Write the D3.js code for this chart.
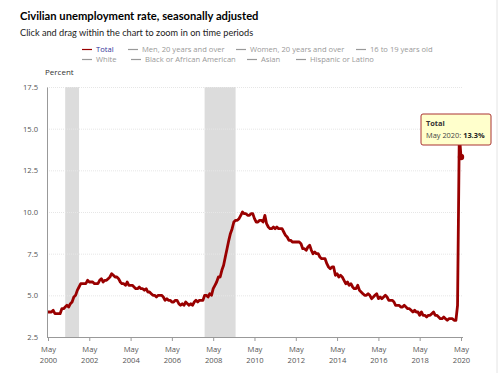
<!DOCTYPE html>
<html>
<head>
<meta charset="utf-8">
<script src="https://cdn.jsdelivr.net/npm/d3@7"></script>
<style>
  body { margin: 0; background: #fff; font-family: "Open Sans", "Noto Sans", sans-serif; }
  #viz { width: 500px; height: 373px; }
</style>
</head>
<body>
<div id="viz"></div>
<script>
// Monthly unemployment rate, Total, May 2000 - May 2020
const startDate = new Date(2000, 4, 1);
const totalRate = [
  4.0, 4.0, 4.0, 4.1, 3.9, 3.9, 3.9, 3.9,                         // 2000 May-Dec
  4.2, 4.2, 4.3, 4.4, 4.3, 4.5, 4.6, 4.9, 5.0, 5.3, 5.5, 5.7,     // 2001
  5.7, 5.7, 5.7, 5.9, 5.8, 5.8, 5.8, 5.7, 5.7, 5.7, 5.9, 6.0,     // 2002
  5.8, 5.9, 5.9, 6.0, 6.1, 6.3, 6.2, 6.1, 6.1, 6.0, 5.8, 5.7,     // 2003
  5.7, 5.6, 5.8, 5.6, 5.6, 5.6, 5.5, 5.4, 5.4, 5.5, 5.4, 5.4,     // 2004
  5.3, 5.4, 5.2, 5.2, 5.1, 5.0, 5.0, 4.9, 5.0, 5.0, 5.0, 4.9,     // 2005
  4.7, 4.8, 4.7, 4.7, 4.6, 4.6, 4.7, 4.7, 4.5, 4.4, 4.5, 4.4,     // 2006
  4.6, 4.5, 4.4, 4.5, 4.4, 4.6, 4.7, 4.6, 4.7, 4.7, 4.7, 5.0,     // 2007
  5.0, 4.9, 5.1, 5.0, 5.4, 5.6, 5.8, 6.1, 6.1, 6.5, 6.8, 7.3,     // 2008
  7.8, 8.3, 8.7, 9.0, 9.4, 9.5, 9.5, 9.6, 9.8, 10.0, 9.9, 9.9,    // 2009
  9.8, 9.8, 9.9, 9.9, 9.6, 9.4, 9.4, 9.5, 9.5, 9.4, 9.8, 9.3,     // 2010
  9.1, 9.0, 9.0, 9.1, 9.0, 9.1, 9.0, 9.0, 9.0, 8.8, 8.6, 8.5,     // 2011
  8.3, 8.3, 8.2, 8.2, 8.2, 8.2, 8.2, 8.1, 7.8, 7.8, 7.7, 7.9,     // 2012
  8.0, 7.7, 7.5, 7.6, 7.5, 7.5, 7.3, 7.2, 7.2, 7.2, 6.9, 6.7,     // 2013
  6.6, 6.7, 6.7, 6.2, 6.3, 6.1, 6.2, 6.1, 5.9, 5.7, 5.8, 5.6,     // 2014
  5.7, 5.5, 5.4, 5.4, 5.6, 5.3, 5.2, 5.1, 5.0, 5.0, 5.1, 5.0,     // 2015
  4.8, 4.9, 5.0, 5.1, 4.8, 4.9, 4.8, 4.9, 5.0, 4.9, 4.7, 4.7,     // 2016
  4.7, 4.6, 4.4, 4.4, 4.4, 4.3, 4.3, 4.4, 4.3, 4.2, 4.2, 4.1,     // 2017
  4.0, 4.1, 4.0, 4.0, 3.8, 4.0, 3.8, 3.8, 3.7, 3.8, 3.8, 3.9,     // 2018
  4.0, 3.8, 3.8, 3.7, 3.6, 3.6, 3.7, 3.6, 3.5, 3.6, 3.6, 3.6,     // 2019
  3.5, 3.5, 4.4, 14.7, 13.3                                        // 2020 Jan-May
];

// Recession periods (shaded)
const recessions = [
  { start: new Date(2001, 2, 1), end: new Date(2001, 10, 1) },
  { start: new Date(2007, 11, 1), end: new Date(2009, 5, 1) }
];

const yTicks = [2.5, 5.0, 7.5, 10.0, 12.5, 15.0, 17.5];
const xTickYears = [2000, 2002, 2004, 2006, 2008, 2010, 2012, 2014, 2016, 2018, 2020];

const legendRow1 = ['Total', 'Men, 20 years and over', 'Women, 20 years and over', '16 to 19 years old'];
const legendRow2 = ['White', 'Black or African American', 'Asian', 'Hispanic or Latino'];

const data = totalRate.map((v, i) => ({
  date: new Date(startDate.getFullYear(), startDate.getMonth() + i, 1),
  value: v
}));

const width = 500, height = 373;
const margin = { left: 47, right: 37, top: 87, bottom: 36 };
const lineColor = '#990000';

const svg = d3.select('#viz').append('svg')
  .attr('width', width)
  .attr('height', height);

const x = d3.scaleTime()
  .domain([new Date(2000, 4, 1), new Date(2020, 4, 1)])
  .range([margin.left + 1, 461]);

const y = d3.scaleLinear()
  .domain([2.5, 17.5])
  .range([height - margin.bottom, margin.top]);

// right border
svg.append('line')
  .attr('x1', 497).attr('x2', 497).attr('y1', 0).attr('y2', height)
  .attr('stroke', '#e4e4e4');

// Title
svg.append('text')
  .attr('x', 20).attr('y', 20)
  .attr('font-family', 'Lato, sans-serif')
  .attr('font-size', 11.2).attr('font-weight', 'bold').attr('fill', '#000')
  .text('Civilian unemployment rate, seasonally adjusted');

svg.append('text')
  .attr('x', 20).attr('y', 36)
  .attr('font-family', 'Lato, sans-serif')
  .attr('font-size', 9.2).attr('fill', '#222')
  .text('Click and drag within the chart to zoom in on time periods');

// Legend
const legendX1 = [82, 128, 236, 356];
const legendX2 = [82, 131, 247, 296];
function drawLegend(items, xs, yy) {
  const g = svg.append('g').attr('font-size', 7.6);
  items.forEach((name, i) => {
    g.append('line')
      .attr('x1', xs[i]).attr('x2', xs[i] + 10)
      .attr('y1', yy - 2.5).attr('y2', yy - 2.5)
      .attr('stroke', name === 'Total' ? lineColor : '#999')
      .attr('stroke-width', 1.2);
    g.append('text')
      .attr('x', xs[i] + 14).attr('y', yy)
      .attr('fill', name === 'Total' ? '#333399' : '#999')
      .text(name);
  });
}
drawLegend(legendRow1, legendX1, 52);
drawLegend(legendRow2, legendX2, 62);

// Percent label
svg.append('text')
  .attr('x', 45).attr('y', 75)
  .attr('font-size', 8).attr('fill', '#333')
  .text('Percent');

// Recession bands
svg.append('g').selectAll('rect')
  .data(recessions)
  .join('rect')
  .attr('x', d => x(d.start))
  .attr('width', d => x(d.end) - x(d.start))
  .attr('y', y(17.5))
  .attr('height', y(2.5) - y(17.5))
  .attr('fill', '#dcdcdc');

// Gridlines
svg.append('g').selectAll('line')
  .data(yTicks.filter(t => t > 2.5))
  .join('line')
  .attr('x1', margin.left).attr('x2', 463)
  .attr('y1', d => y(d) + 0.5).attr('y2', d => y(d) + 0.5)
  .attr('stroke', '#e6e6e6')
  .attr('stroke-dasharray', '1,1');

// Y axis
const yAxis = svg.append('g')
  .attr('transform', `translate(${margin.left},0)`)
  .call(d3.axisLeft(y).tickValues(yTicks).tickFormat(d3.format('.1f')).tickSize(0).tickPadding(9));
yAxis.select('.domain').attr('stroke', '#999');
yAxis.selectAll('text').attr('font-size', 7.6).attr('fill', '#555')
  .attr('font-family', '"Open Sans", sans-serif');

// X axis
const xAxis = svg.append('g')
  .attr('transform', `translate(0,${y(2.5)})`)
  .call(d3.axisBottom(x)
    .tickValues(xTickYears.map(yr => new Date(yr, 4, 1)))
    .tickSize(4)
    .tickFormat(''));
xAxis.select('.domain').attr('stroke', '#999').attr('d', `M${margin.left},0.5H463`);
xAxis.selectAll('.tick line').attr('stroke', '#999');
xAxis.selectAll('.tick').append('text')
  .attr('text-anchor', 'middle')
  .attr('font-size', 7.6)
  .attr('fill', '#555')
  .attr('font-family', '"Open Sans", sans-serif')
  .each(function(d) {
    const t = d3.select(this);
    t.append('tspan').attr('x', 0).attr('y', 15).text('May');
    t.append('tspan').attr('x', 0).attr('y', 26).text(d.getFullYear());
  });

// Line
const line = d3.line()
  .x(d => x(d.date))
  .y(d => y(d.value));

svg.append('path')
  .datum(data)
  .attr('d', line)
  .attr('fill', 'none')
  .attr('stroke', lineColor)
  .attr('stroke-width', 2.8)
  .attr('stroke-linejoin', 'round');

// Highlighted last point and tooltip
const last = data[data.length - 1];
svg.append('circle')
  .attr('cx', x(last.date)).attr('cy', y(last.value))
  .attr('r', 3.2).attr('fill', lineColor);

const tip = svg.append('g').attr('transform', 'translate(421,114)');
tip.append('rect')
  .attr('width', 70).attr('height', 31).attr('rx', 2)
  .attr('fill', '#ffffcc').attr('stroke', '#aa3333').attr('stroke-width', 1);
tip.append('text')
  .attr('x', 5).attr('y', 12)
  .attr('font-size', 7.4).attr('font-weight', 'bold').attr('fill', '#333')
  .text('Total');
const tt = tip.append('text')
  .attr('x', 5).attr('y', 24)
  .attr('font-size', 7.4).attr('fill', '#444');
tt.append('tspan').text('May 2020: ');
tt.append('tspan').attr('font-weight', 'bold').attr('fill', '#222').text(last.value.toFixed(1) + '%');
</script>
</body>
</html>
